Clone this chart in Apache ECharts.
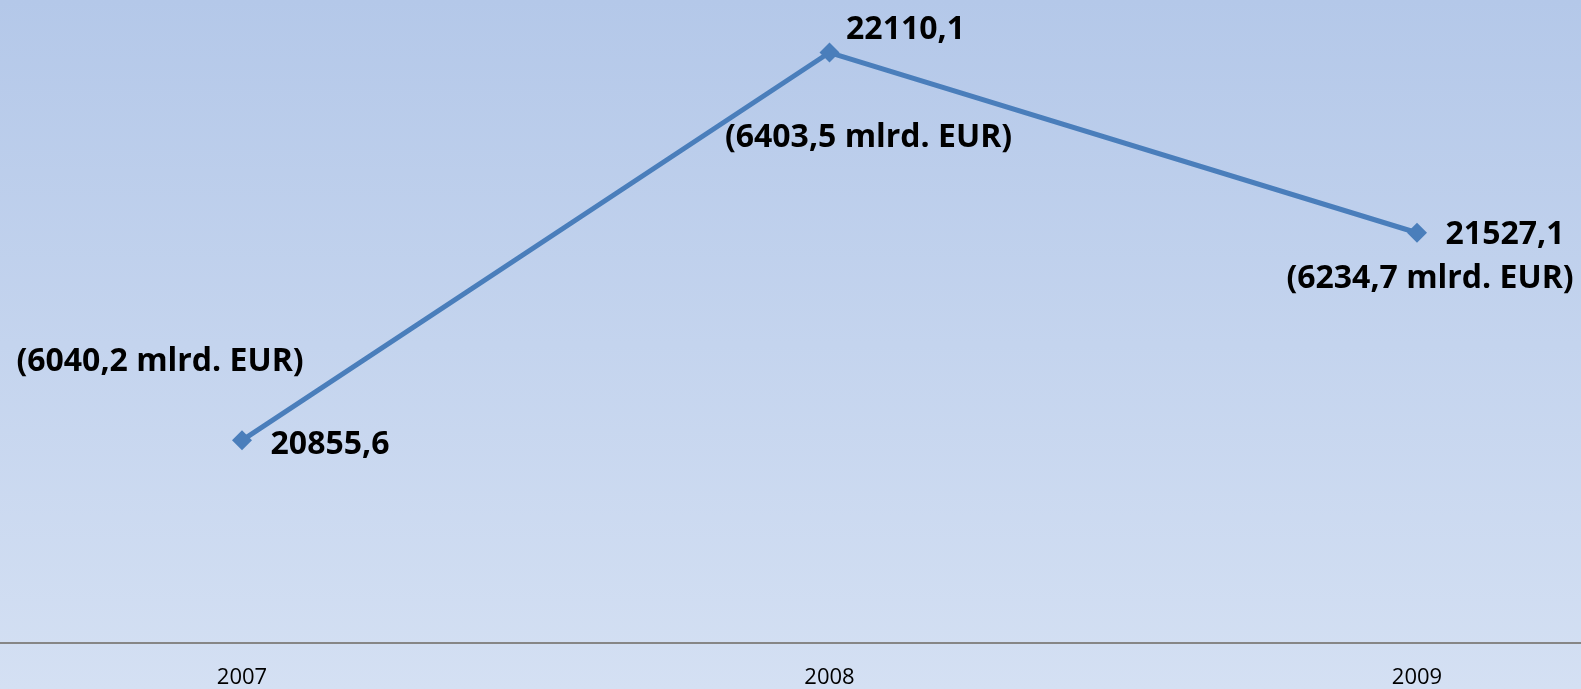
<!DOCTYPE html>
<html>
<head>
<meta charset="utf-8">
<script src="https://cdn.jsdelivr.net/npm/echarts@6/dist/echarts.min.js"></script>
<style>
  html, body { margin: 0; padding: 0; }
  #chart { width: 1581px; height: 689px; }
</style>
</head>
<body>
<div id="chart"></div>
<script>
const years = ['2007', '2008', '2009']
const values = [20855.6, 22110.1, 21527.1]
const mlrdEur = [6040.2, 6403.5, 6234.7]

// label offsets from the point (centre of text)
const valueOffsets = [[88, 5], [76, -23], [88, 2]]
const mlrdOffsets = [[-82, -78], [39, 85], [13, 46]]

const fmt = v => String(v).replace('.', ',')

const chart = echarts.init(document.getElementById('chart'))

const labelFont = {
  fontFamily: 'Open Sans',
  fontWeight: 'bold',
  fontSize: 32,
  color: '#000',
  opacity: 1
}

chart.setOption({
  backgroundColor: new echarts.graphic.LinearGradient(0, 0, 0, 1, [
    { offset: 0, color: '#b4c8e9' },
    { offset: 1, color: '#d4e0f3' }
  ]),
  animation: false,
  grid: [
    { left: 242, right: 164, top: 0, bottom: 46 },
    { left: 0, right: 0, top: 0, bottom: 46 }
  ],
  xAxis: [
    {
      type: 'category',
      data: years,
      boundaryGap: false,
      gridIndex: 0,
      axisLine: { show: false },
      axisTick: { show: false },
      axisLabel: { fontFamily: 'Open Sans', fontSize: 22, color: '#000', margin: 24 }
    },
    {
      // full-width baseline
      type: 'value',
      gridIndex: 1,
      axisLine: { show: true, onZero: false, lineStyle: { color: '#868686', width: 2 } },
      axisTick: { show: false },
      axisLabel: { show: false },
      splitLine: { show: false }
    }
  ],
  yAxis: [
    {
      type: 'value',
      gridIndex: 0,
      min: 20200,
      max: 22280,
      show: false,
      splitLine: { show: false }
    },
    { type: 'value', gridIndex: 1, show: false, splitLine: { show: false } }
  ],
  series: [
    {
      type: 'line',
      data: values.map((v, i) => ({
        value: v,
        label: { offset: valueOffsets[i] }
      })),
      symbol: 'diamond',
      symbolSize: 20,
      lineStyle: { color: '#4a7ebb', width: 5 },
      itemStyle: { color: '#4a7ebb' },
      label: {
        show: true,
        position: 'inside',
        ...labelFont,
        formatter: p => fmt(p.value)
      }
    },
    {
      type: 'scatter',
      data: values.map((v, i) => ({
        value: v,
        label: { offset: mlrdOffsets[i] }
      })),
      symbolSize: 1,
      itemStyle: { color: 'rgba(0,0,0,0)', opacity: 1 },
      label: {
        show: true,
        position: 'inside',
        ...labelFont,
        formatter: p => '(' + fmt(mlrdEur[p.dataIndex]) + ' mlrd. EUR)'
      },
      z: 3
    }
  ]
})
</script>
</body>
</html>
